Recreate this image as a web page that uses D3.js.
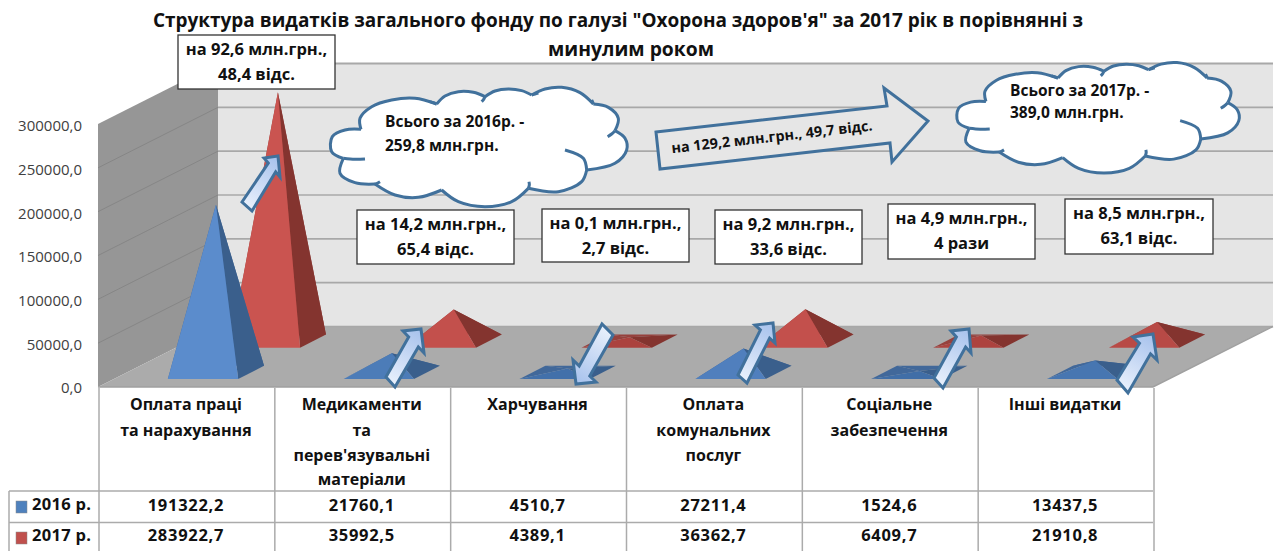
<!DOCTYPE html>
<html>
<head>
<meta charset="utf-8">
<script src="https://cdn.jsdelivr.net/npm/d3@7"></script>
<style>
  html, body { margin: 0; background: #fff; overflow: hidden; }
  text { font-family: "Open Sans", "Noto Sans", sans-serif; font-weight: 700; fill: #111; }
</style>
</head>
<body>
<svg id="chart" width="1283" height="551"></svg>
<script>
// data
const categories = ['Оплата праці', 'Медикаменти', 'Харчування', 'Оплата комунальних', 'Соціальне', 'Інші видатки'];
const categoryLines = [
  ['Оплата праці', 'та нарахування'],
  ['Медикаменти', 'та', "перев'язувальні", 'матеріали'],
  ['Харчування'],
  ['Оплата', 'комунальних', 'послуг'],
  ['Соціальне', 'забезпечення'],
  ['Інші видатки']
];
const seriesNames = ['2016 р.', '2017 р.'];
const values2016 = [191322.2, 21760.1, 4510.7, 27211.4, 1524.6, 13437.5];
const values2017 = [283922.7, 35992.5, 4389.1, 36362.7, 6409.7, 21910.8];
const yTicks = [0, 50000, 100000, 150000, 200000, 250000, 300000];
const titleLines = ['Структура видатків загального фонду по галузі "Охорона здоров\'я" за 2017 рік в порівнянні з', 'минулим роком'];

// annotations on top of the chart: [x0, y0, x1, y1, line1, line2]
const boxes = [
  [178, 35, 335, 89, 'на 92,6 млн.грн.,', '48,4 відс.'],
  [357, 210, 514, 264, 'на 14,2 млн.грн.,', '65,4 відс.'],
  [542, 209, 689, 262, 'на 0,1 млн.грн.,', '2,7 відс.'],
  [715, 210, 862, 264, 'на 9,2 млн.грн.,', '33,6 відс.'],
  [888, 204, 1035, 259, 'на 4,9 млн.грн.,', '4 рази'],
  [1065, 199, 1213, 254, 'на 8,5 млн.грн.,', '63,1 відс.']
];
// small arrows: tail corner a, wing 1, tip, wing 2, tail corner b
const arrows = [
  [[242, 202], [264, 158], [278, 156], [280, 177], [252, 211]],
  [[386, 377], [403, 331], [421, 329], [424, 353], [395, 387]],
  [[602, 324], [573, 360], [576, 384], [596, 382], [613, 335]],
  [[738, 375], [755, 325], [773, 323], [775, 343], [747, 383]],
  [[934, 378], [951, 331], [969, 329], [971, 353], [943, 388]],
  [[1117, 380], [1133, 337], [1153, 334], [1157, 360], [1128, 393]]
];
const bigArrow = [[656, 132], [887, 106], [884, 88], [928, 121], [892, 162], [890, 143], [660, 169]];
// cloud outline, one list of points per lobe, in a local px grid (x3)
const cloudLobes = [
  [[108, 118], [105, 85], [140, 50], [200, 30], [270, 25], [335, 42]],
  [[335, 42], [360, 18], [400, 5], [445, 7], [480, 20]],
  [[480, 20], [510, 3], [550, -3], [590, 2], [620, 15]],
  [[620, 15], [660, -3], [710, -8], [765, 8], [805, 42]],
  [[805, 42], [850, 52], [880, 85], [870, 122]],
  [[870, 122], [900, 145], [905, 180], [870, 220], [785, 240]],
  [[785, 240], [770, 275], [700, 305], [610, 295]],
  [[610, 295], [560, 335], [480, 350], [400, 335], [350, 300]],
  [[350, 300], [280, 322], [210, 315], [150, 282]],
  [[150, 282], [90, 278], [45, 250], [55, 205]],
  [[55, 205], [20, 185], [22, 140], [60, 120], [108, 118]]
];
const cloudTails = [
  [[55, 205], [90, 208], [120, 207]],
  [[785, 240], [775, 205], [720, 180]],
  [[870, 122], [860, 132], [848, 140]],
  [[150, 282], [158, 279], [165, 275]],
  [[610, 295], [613, 285], [612, 275]],
  [[480, 20], [476, 28], [470, 35]],
  [[620, 15], [630, 12], [640, 9]],
  [[805, 42], [803, 36], [800, 30]],
  [[335, 42], [325, 38], [315, 35]]
];

const blue = { front: '#5B8CCC', flat: '#3F6DA6', side: '#3A5F8C', back: '#41689A' };
const red = { front: '#CA5450', flat: '#A8403C', side: '#84342F', back: '#96413D' };

const svg = d3.select('#chart');
const defs = svg.append('defs');

// oblique projection of the box: x along categories, d = depth 0..1, h = px above the floor
const floorY = 387, depthX = 120, depthY = 60.5, wallH = 263;
const x = d3.scaleBand().domain(categories).range([99, 1154]).paddingInner(0.6).paddingOuter(0.3);
const depth = d3.scaleBand().domain(seriesNames).range([0, 1]).paddingInner(0.5825).paddingOuter(0.26);
const h = d3.scaleLinear().domain([0, 300000]).range([0, wallH]);
const project = (px, d, hh) => [px + depthX * d, floorY - depthY * d - (hh || 0)];
const x0 = 98, x1 = 1153;
const comma = v => d3.format('.1f')(v).replace('.', ',');

// walls + floor
const poly = pts => 'M' + pts.map(p => p.join(',')).join('L') + 'Z';
svg.append('path').attr('fill', '#E5E5E5')
  .attr('d', poly([project(x0, 1, wallH), project(x1, 1, wallH), project(x1, 1), project(x0, 1)]));
svg.append('path').attr('fill', '#969696')
  .attr('d', poly([project(x0, 0, wallH), project(x0, 1, wallH), project(x0, 1), project(x0, 0)]));
svg.append('path').attr('fill', '#ABABAB')
  .attr('d', poly([project(x0, 0), project(x1, 0), project(x1, 1), project(x0, 1)]));

// gridlines
yTicks.forEach(t => {
  const a = project(x0, 0, h(t)), b = project(x0, 1, h(t)), c = project(x1, 1, h(t));
  if (t > 0 && t < 300000) svg.append('line').attr('x1', a[0]).attr('y1', a[1]).attr('x2', b[0]).attr('y2', b[1])
    .attr('stroke', '#868686').attr('stroke-width', 1);
  svg.append('line').attr('x1', b[0]).attr('y1', b[1]).attr('x2', c[0]).attr('y2', c[1])
    .attr('stroke', '#A8A8A8').attr('stroke-width', t === 300000 ? 2 : 1.6);
});
const fl = project(x0, 0), fr = project(x1, 0), br = project(x1, 1);
svg.append('path').attr('fill', 'none').attr('stroke', '#A0A0A0').attr('stroke-width', 1.5)
  .attr('d', `M${fl}L${fr}L${br}`);

// y axis labels
const yAxisScale = d3.scaleLinear().domain([0, 300000]).range([floorY + 1, floorY + 1 - 262]);
const yAxis = svg.append('g').attr('transform', 'translate(88,0)')
  .call(d3.axisLeft(yAxisScale).tickValues(yTicks).tickSize(0).tickFormat(comma));
yAxis.select('.domain').remove();
yAxis.selectAll('text').attr('x', -6).style('font-size', '15px').style('font-weight', 400)
  .style('font-family', '"Open Sans"').style('fill', '#404040');

// pyramids, back row first
function pyramid(g, cat, series, value, col) {
  const xa = x(cat), xb = xa + x.bandwidth();
  const da = depth(series), db = da + depth.bandwidth();
  const FL = project(xa, da), FR = project(xb, da), BR = project(xb, db), BL = project(xa, db);
  const top = project((xa + xb) / 2, (da + db) / 2, h(value));
  const hh = h(value);
  const shade = d3.interpolateRgb(col.flat, col.front)(Math.min(1, hh / 40));
  g.append('path').attr('fill', col.back).attr('d', poly([BL, BR, top]));
  g.append('path').attr('fill', col.back).attr('d', poly([FL, BL, top]));
  g.append('path').attr('fill', col.side).attr('d', poly([FR, BR, top]));
  g.append('path').attr('fill', shade).attr('d', poly([FL, FR, top]));
}
const gMarks = svg.append('g');
categories.forEach((c, i) => pyramid(gMarks, c, seriesNames[1], values2017[i], red));
categories.forEach((c, i) => pyramid(gMarks, c, seriesNames[0], values2016[i], blue));

// table under the chart
const step = x.step();
const table = svg.append('g').attr('stroke', '#ABABAB').attr('stroke-width', 1.5);
d3.range(7).forEach(i => {
  table.append('line').attr('x1', 99 + i * step).attr('x2', 99 + i * step).attr('y1', 388).attr('y2', 551);
});
[491, 522.5].forEach(y => {
  table.append('line').attr('x1', 9).attr('x2', 1153).attr('y1', y).attr('y2', y);
});
table.append('line').attr('x1', 9).attr('x2', 9).attr('y1', 491).attr('y2', 551);

categories.forEach((c, i) => {
  const cx = 99 + (i + 0.5) * step - 1;
  const rowY = [406, 432, 456.5, 481];
  categoryLines[i].forEach((t, j) => {
    svg.append('text').attr('x', cx).attr('y', rowY[j]).attr('text-anchor', 'middle')
      .attr('dominant-baseline', 'middle').style('font-size', '16px').text(t);
  });
  [values2016, values2017].forEach((vals, k) => {
    svg.append('text').attr('x', cx).attr('y', k ? 537 : 507).attr('text-anchor', 'middle')
      .attr('dominant-baseline', 'middle').style('font-size', '16.5px').style('letter-spacing', '0.7px')
      .text(comma(vals[i]));
  });
});
seriesNames.forEach((s, k) => {
  const y = k ? 538 : 507;
  svg.append('rect').attr('x', 16).attr('y', y - 6).attr('width', 11).attr('height', 12)
    .attr('fill', k ? '#C0504D' : '#4F81BD').attr('stroke', '#8a8a8a').attr('stroke-width', 0.5);
  svg.append('text').attr('x', 32).attr('y', y - 1).attr('dominant-baseline', 'middle')
    .style('font-size', '16.5px').style('letter-spacing', '0.3px').text(s);
});

// title
titleLines.forEach((t, i) => {
  const el = svg.append('text').attr('x', i ? 631 : 618).attr('y', i ? 51 : 22).attr('text-anchor', 'middle')
    .attr('dominant-baseline', 'middle').style('font-size', '19px').text(t);
  el.attr('textLength', i ? 166 : 930).attr('lengthAdjust', 'spacingAndGlyphs');
});

// big arrow
svg.append('path').attr('d', poly(bigArrow)).attr('fill', '#E6E6E6')
  .attr('stroke', '#41719C').attr('stroke-width', 3).attr('stroke-linejoin', 'miter');
svg.append('text').attr('transform', 'translate(772,138) rotate(-6.5)').attr('text-anchor', 'middle')
  .attr('dominant-baseline', 'middle').style('font-size', '14.4px').text('на 129,2 млн.грн., 49,7 відс.');

// clouds
const lobeLine = d3.line().curve(d3.curveCatmullRom.alpha(0.5));
function cloud(fx, fy, line1, line2, tx, ty1, ty2) {
  const g = svg.append('g');
  const mapPts = pts => pts.map(p => [fx(p[0]), fy(p[1])]);
  // fill first, then stroke lobe by lobe so the dents stay sharp
  const fillD = cloudLobes.map((l, i) => {
    const s = lobeLine(mapPts(l));
    return i ? s.replace(/^M[^C]*/, '') : s;
  }).join('') + 'Z';
  g.append('path').attr('d', fillD).attr('fill', '#fff');
  cloudLobes.concat(cloudTails).forEach(l => {
    g.append('path').attr('d', lobeLine(mapPts(l))).attr('fill', 'none')
      .attr('stroke', '#41719C').attr('stroke-width', 3).attr('stroke-linecap', 'butt');
  });
  [[line1, ty1], [line2, ty2]].forEach(([t, y]) => {
    g.append('text').attr('x', tx).attr('y', y).attr('dominant-baseline', 'middle')
      .style('font-size', '15.5px').text(t);
  });
}
cloud(v => 325 + v / 3, v => 90 + v / 3, 'Всього за 2016р. -', '259,8 млн.грн.', 385, 123, 147);
cloud(v => 958 + (v - 20) / 3 * 0.952, v => 62 + (v + 10) / 3 * 0.925, 'Всього за 2017р. -', '389,0 млн.грн.', 1010, 92, 114);

// text boxes
boxes.forEach(([ax, ay, bx, by, l1, l2]) => {
  svg.append('rect').attr('x', ax).attr('y', ay).attr('width', bx - ax).attr('height', by - ay)
    .attr('fill', '#fff').attr('stroke', '#333').attr('stroke-width', 1.3);
  svg.append('text').attr('x', (ax + bx) / 2).attr('y', ay + 16).attr('text-anchor', 'middle')
    .attr('dominant-baseline', 'middle').style('font-size', '16.5px').text(l1);
  svg.append('text').attr('x', (ax + bx) / 2).attr('y', ay + 41).attr('text-anchor', 'middle')
    .attr('dominant-baseline', 'middle').style('font-size', '16.5px').text(l2);
});

// small block arrows with a gradient from tail to head
arrows.forEach(([a, w1, tip, w2, b], i) => {
  const lerp = (p, q, t) => [p[0] + (q[0] - p[0]) * t, p[1] + (q[1] - p[1]) * t];
  const n1 = lerp(w1, w2, 0.27), n2 = lerp(w1, w2, 0.73);
  const tail = lerp(a, b, 0.5);
  const grad = defs.append('linearGradient').attr('id', 'ag' + i).attr('gradientUnits', 'userSpaceOnUse')
    .attr('x1', tail[0]).attr('y1', tail[1]).attr('x2', tip[0]).attr('y2', tip[1]);
  grad.append('stop').attr('offset', 0).attr('stop-color', '#E8F0FC');
  grad.append('stop').attr('offset', 1).attr('stop-color', '#A6C1EC');
  svg.append('path').attr('d', poly([a, n1, w1, tip, w2, n2, b])).attr('fill', `url(#ag${i})`)
    .attr('stroke', '#41719C').attr('stroke-width', 3).attr('stroke-linejoin', 'miter');
});
</script>
</body>
</html>
